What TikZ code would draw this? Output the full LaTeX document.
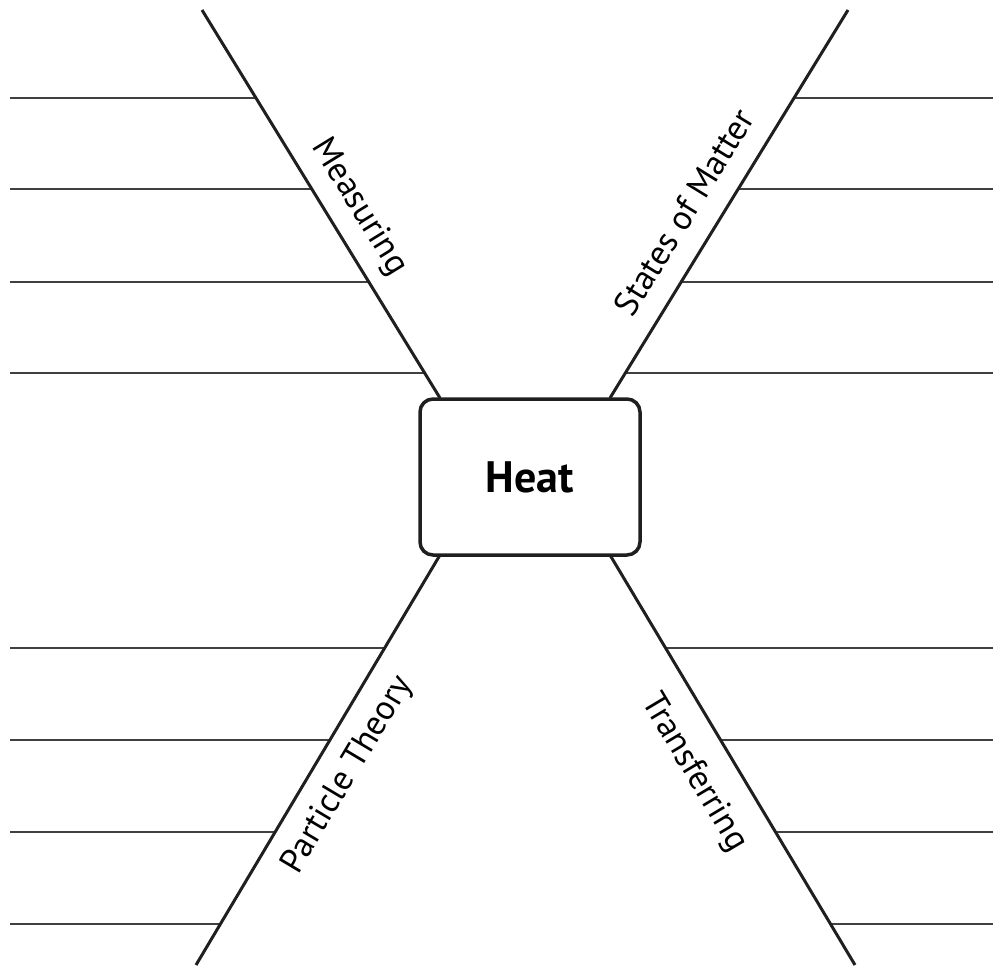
\documentclass[tikz,border=0pt]{standalone}
\usepackage{fontspec}
\setmainfont{PT Sans}
\begin{document}
\begin{tikzpicture}[x=1pt,y=-1pt,
  spoke/.style={draw=black!88, line width=3pt},
  rule/.style={draw=black!75, line width=1.6pt},
  centerbox/.style={draw=black!88, line width=3.5pt, rounded corners=13pt, fill=white, minimum width=220pt, minimum height=156pt, inner sep=0pt, font=\fontsize{44}{50}\selectfont\bfseries},
  lab/.style={inner sep=0pt, font=\fontsize{34.5}{38}\selectfont}]
\useasboundingbox (0,0) rectangle (993,967);
% spoke end points
\coordinate (tlo) at (202,10);  \coordinate (tli) at (440,398);
\coordinate (tro) at (848,10);  \coordinate (tri) at (610,398);
\coordinate (blo) at (196,965); \coordinate (bli) at (440,555);
\coordinate (bro) at (855,965); \coordinate (bri) at (610,555);
% left/right rule ends
\foreach \y/\x [count=\i] in {98/256.1,189/312.1,282/369.3,373/425.2}{
  \coordinate (la\i) at (10,\y); \coordinate (lb\i) at (\x,\y);
  \draw[rule] (la\i) -- (lb\i);}
\foreach \y/\x [count=\i] in {98/793.9,189/737.9,282/680.7,373/624.8}{
  \coordinate (ra\i) at (993,\y); \coordinate (rb\i) at (\x,\y);
  \draw[rule] (rb\i) -- (ra\i);}
\foreach \y/\x [count=\i] in {648/385.1,740/330.2,832/275.3,924/220.5}{
  \coordinate (lc\i) at (10,\y); \coordinate (ld\i) at (\x,\y);
  \draw[rule] (lc\i) -- (ld\i);}
\foreach \y/\x [count=\i] in {648/665.1,740/720.2,832/775.3,924/830.4}{
  \coordinate (rc\i) at (993,\y); \coordinate (rd\i) at (\x,\y);
  \draw[rule] (rd\i) -- (rc\i);}
\draw[spoke] (tlo) -- (tli);
\draw[spoke] (tro) -- (tri);
\draw[spoke] (blo) -- (bli);
\draw[spoke] (bro) -- (bri);
\node[centerbox] (heat) at (530,477) {Heat};
\node[lab, rotate=-58.4] (meas) at (359,207) {Measuring};
\node[lab, rotate=58.4] (states) at (684,212) {States of Matter};
\node[lab, rotate=59.2] (part) at (348,775) {Particle Theory};
\node[lab, rotate=-59.2] (trans) at (694,773) {Transferring};
\end{tikzpicture}
\end{document}
